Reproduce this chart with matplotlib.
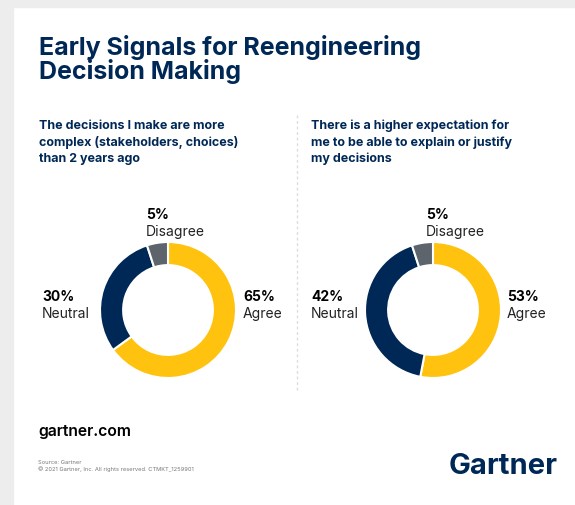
import matplotlib.pyplot as plt
from matplotlib.lines import Line2D
from matplotlib.patches import Rectangle

# survey answers, in percent
categories = ["Agree", "Neutral", "Disagree"]
complex_vals = [65, 30, 5]
explain_vals = [53, 42, 5]
colours = ["#FFC20E", "#002856", "#5E646C"]

title = "Early Signals for Reengineering\nDecision Making"
left_q = "The decisions I make are more\ncomplex (stakeholders, choices)\nthan 2 years ago"
right_q = "There is a higher expectation for\nme to be able to explain or justify\nmy decisions"

plt.rcParams["font.family"] = ["Inter", "DejaVu Sans"]
navy = "#002856"

W, H = 575, 506
fig = plt.figure(figsize=(W / 100, H / 100), dpi=100)


def fx(x):
    return x / W


def fy(y):
    return 1 - y / H


# light grey frame on top and left
fig.patches.append(Rectangle((0, fy(8)), 1, 8 / H, transform=fig.transFigure, color="#EDEDED", zorder=0))
fig.patches.append(Rectangle((0, 0), fx(13), 1, transform=fig.transFigure, color="#EDEDED", zorder=0))

fig.text(fx(39), fy(35), title, fontsize=18, fontweight="bold", color=navy, va="top", linespacing=0.95)
fig.text(fx(39), fy(120), left_q, fontsize=9, fontweight="bold", color=navy, va="top", linespacing=1.4)
fig.text(fx(311), fy(120), right_q, fontsize=9, fontweight="bold", color=navy, va="top", linespacing=1.4)

# dashed divider
fig.add_artist(Line2D([fx(297), fx(297)], [fy(116), fy(392)], transform=fig.transFigure,
                      color="#DDDDDD", linestyle=(0, (2, 2)), linewidth=1))

R = 68


def donut(cx, cy, vals, lab_pos):
    ax = fig.add_axes([fx(cx - R), fy(cy + R), 2 * R / W, 2 * R / H])
    ax.pie(vals, colors=colours, startangle=90, counterclock=False, radius=1,
           wedgeprops=dict(width=0.34, edgecolor="white", linewidth=1.5))
    ax.set_xlim(-1, 1)
    ax.set_ylim(-1, 1)
    ax.set_aspect("equal")
    ax.axis("off")
    for cat, v, (lx, ly) in zip(categories, vals, lab_pos):
        fig.text(fx(lx), fy(ly), f"{v}%", fontsize=10, fontweight="bold", color="black", va="center")
        fig.text(fx(lx), fy(ly + 17), cat, fontsize=10, color="#222222", va="center")


donut(168, 311, complex_vals, [(243, 297), (42, 297), (146, 215)])
donut(433, 311, explain_vals, [(507, 297), (311, 297), (426, 215)])

fig.text(fx(38), fy(432), "gartner.com", fontsize=11.3, fontweight="semibold", color="black", va="center")
fig.text(fx(38), fy(466), "Source: Gartner\n\u00a9 2021 Gartner, Inc. All rights reserved. CTMKT_1259901",
         fontsize=4.1, color="#777777", va="center", linespacing=1.2)
fig.text(fx(558), fy(467), "Gartner", fontsize=21, fontweight="bold", color=navy, va="center", ha="right")

fig.savefig("out.png", dpi=100)
